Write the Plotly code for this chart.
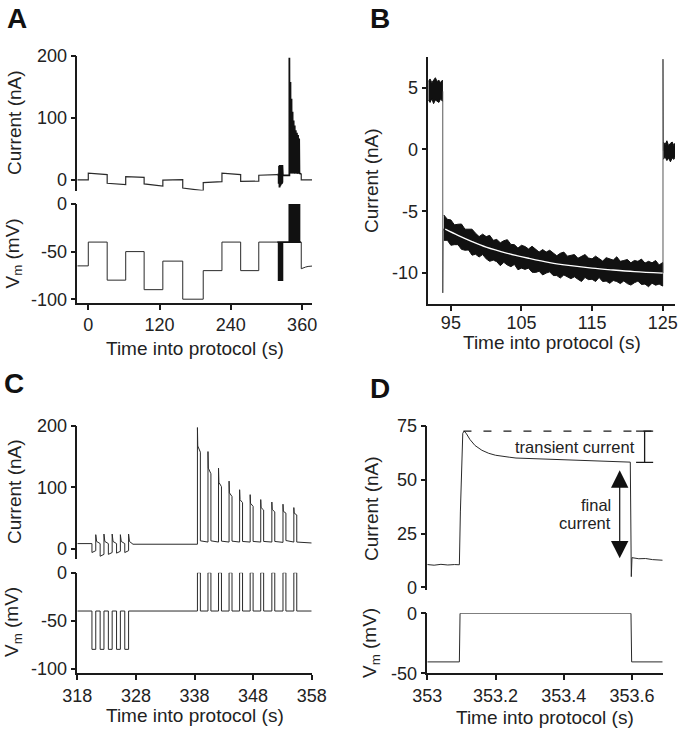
import plotly.graph_objects as go

W, H = 679, 730
FONT = "Liberation Sans, Arial, Helvetica, sans-serif"
INK = "#1a1a1a"
TRACE = "#2a2a2a"

# ---------------- Panel A : whole protocol ----------------
A_step_t = [-18.5, 0, 31.8, 63, 94, 125.5, 159, 193.5, 225, 256.5, 287]
A_step_vm = [-65, -40, -80, -50, -90, -60, -100, -70, -40, -70, -40]
A_cur_start = [0, 11, -5.4, 5.4, -6.3, -0.1, -13, -4.3, 11, -2.2, 7.6]
A_cur_end = [0, 8.6, -7.6, 4.3, -10, 0.5, -17.3, -2.7, 8.6, -2.0, 8.5]
A_tail_t = [358.5, 362, 366, 370, 376.6]
A_tail_vm = [-68, -67, -66.2, -65.6, -65.2]
A_tail_cur = [0, 0.2, 0, -0.1, 0]
A_xticks = [0, 120, 240, 360]
A_cur_ticks = [0, 100, 200]
A_vm_ticks = [0, -50, -100]

# ---------------- Panel B : -90 mV step ----------------
B_pre_t = [91.8, 92.05, 92.3, 92.55, 92.8, 93.05, 93.3, 93.55, 93.8]
B_pre_hi = [5.5, 5.7, 5.4, 5.6, 5.8, 5.5, 5.6, 5.4, 5.6]
B_pre_lo = [4.0, 3.8, 4.1, 3.7, 4.0, 3.9, 3.8, 4.1, 3.9]
B_t = [94.0, 94.5, 95.0, 95.5, 96.0, 96.5, 97.0, 97.5, 98.0, 98.5, 99.0, 99.5,
       100.0, 100.5, 101.0, 101.5, 102.0, 102.5, 103.0, 103.5, 104.0, 104.5,
       105.0, 105.5, 106.0, 106.5, 107.0, 107.5, 108.0, 108.5, 109.0, 109.5,
       110.0, 110.5, 111.0, 111.5, 112.0, 112.5, 113.0, 113.5, 114.0, 114.5,
       115.0, 115.5, 116.0, 116.5, 117.0, 117.5, 118.0, 118.5, 119.0, 119.5,
       120.0, 120.5, 121.0, 121.5, 122.0, 122.5, 123.0, 123.5, 124.0, 124.5, 125.0]
B_hi = [-5.3, -5.65, -5.7, -6.1, -6.05, -6.03, -6.45, -6.48, -6.45, -6.78, -7.05, -6.85,
        -7.05, -6.95, -7.35, -7.28, -7.55, -7.38, -7.3, -7.68, -7.7, -7.98,
        -7.75, -7.85, -8.05, -7.83, -8.1, -8.3, -8.1, -8.3, -8.15, -8.35,
        -8.6, -8.4, -8.3, -8.63, -8.55, -8.5, -8.8, -8.63, -8.5, -8.78,
        -8.85, -8.63, -8.8, -9.03, -8.75, -8.83, -8.95, -8.68, -9.05, -8.98,
        -8.9, -9.17, -8.98, -9.05, -8.87, -9.19, -9.05, -9.17, -8.98, -9.34, -9.15]
B_lo = [-7.35, -7.35, -7.75, -7.7, -7.7, -8.08, -8.15, -8.13, -8.55, -8.48, -8.7, -8.5,
        -8.85, -9.05, -8.95, -9.08, -9.4, -9.13, -9.35, -9.48, -9.3, -9.73,
        -9.6, -9.7, -9.6, -9.93, -9.95, -9.85, -10.15, -10.0, -9.9, -10.2,
        -10.2, -10.4, -10.15, -10.28, -10.45, -10.3, -10.5, -10.68, -10.35, -10.53,
        -10.5, -10.68, -10.35, -10.68, -10.65, -10.83, -10.6, -10.68, -10.85, -10.63,
        -10.85, -10.97, -10.78, -10.65, -10.92, -10.89, -11.1, -10.82, -10.98, -10.89, -11.05]
B_post_t = [125.1, 125.35, 125.6, 125.85, 126.1, 126.35, 126.6, 126.75]
B_post_hi = [0.6, 0.4, 0.7, 0.3, 0.5, 0.6, 0.3, 0.5]
B_post_lo = [-0.8, -0.6, -0.9, -0.7, -1.0, -0.7, -0.8, -0.6]
B_on_t = [93.85, 93.85, 93.9, 94.0]
B_on_y = [4.7, -11.6, -6.6, -6.4]
B_off_t = [125.0, 125.05, 125.05, 125.1]
B_off_y = [-10.0, -10.0, 7.3, -0.1]
B_fit_t = [94.2, 96, 98, 100, 103, 106, 109, 112, 115, 118, 121, 125]
B_fit = [-6.45, -6.95, -7.45, -7.9, -8.4, -8.8, -9.15, -9.4, -9.6, -9.75, -9.88, -10.0]
B_xticks = [95, 105, 115, 125]
B_yticks = [5, 0, -5, -10]

# ---------------- Panel C : pulse trains ----------------
C_hold_vm = -40
C_hyp_vm = -80
C_dep_vm = 0
C_hyp_on = [320.5, 321.9, 323.3, 324.7, 326.1]
C_hyp_dur = 0.65
C_hyp_dip = [-6, -12, -9, -7, -6]
C_hyp_rebound = [23, 24, 24, 23, 24]
C_hyp_settle = 12
C_base_pre = 8.5
C_base_mid = 7.5
C_dep_on = [338.5, 340.3, 342.1, 343.9, 345.7, 347.5, 349.3, 351.2, 353.1, 354.95]
C_dep_dur = 0.5
C_dep_peak = [197, 158, 131, 110, 96, 88, 80, 76, 72.5, 67]
C_dep_knee = [167, 131, 108, 91, 80, 74, 67, 64, 61, 58]
C_dep_end = [157, 122, 101, 85, 75, 69, 63, 60, 58, 55]
C_dep_after = [13, 13, 12.5, 12.5, 12, 12, 12, 12, 13.5, 11]
C_dep_before = [7.5, 11, 11, 11, 11, 11, 11, 11, 10.5, 11]
C_base_end = 9.5
C_xticks = [318, 328, 338, 348, 358]
C_cur_ticks = [0, 100, 200]
C_vm_ticks = [0, -50, -100]

# ---------------- Panel D : single pulse ----------------
D_t = [353.0, 353.02, 353.04, 353.06, 353.08, 353.094, 353.097, 353.104, 353.108,
       353.115, 353.125, 353.14, 353.16, 353.18, 353.20, 353.22, 353.24, 353.26,
       353.28, 353.30, 353.32, 353.34, 353.36, 353.38, 353.40, 353.42, 353.44,
       353.46, 353.48, 353.50, 353.52, 353.54, 353.56, 353.58, 353.595, 353.598,
       353.600, 353.62, 353.64, 353.66, 353.68, 353.69]
D_cur = [10.6, 10.3, 10.7, 10.4, 10.6, 10.5, 35.0, 71.5, 72.5,
         71.2, 68.6, 65.8, 63.6, 62.2, 61.3, 60.7, 60.4, 60.0,
         59.9, 59.6, 59.6, 59.3, 59.4, 59.1, 59.1, 58.9, 59.0,
         58.7, 58.7, 58.6, 58.4, 58.5, 58.3, 58.3, 58.1, 5.0,
         13.8, 13.3, 13.4, 12.9, 12.8, 12.6]
D_vm_t = [353.0, 353.094, 353.096, 353.597, 353.599, 353.69]
D_vm = [-40.5, -40.5, 0, 0, -40.5, -40.5]
D_peak_t = 353.106
D_peak = 72.5
D_final = 58.0
D_bracket_t = 353.637
D_cap_half = 0.025
D_dash_end_t = 353.662
D_arrow_t = 353.564
D_arrow_top = 55.0
D_arrow_bottom = 13.5
D_xticks = [353, 353.2, 353.4, 353.6]
D_xlabels = ["353", "353.2", "353.4", "353.6"]
D_cur_ticks = [0, 25, 50, 75]
D_vm_ticks = [0, -50]


# ---------------- build traces ----------------
def c_vm():
    t, y = [318.0], [C_hold_vm]
    for on in C_hyp_on:
        off = on + C_hyp_dur
        t += [on, on, off, off]
        y += [C_hold_vm, C_hyp_vm, C_hyp_vm, C_hold_vm]
    for on in C_dep_on:
        off = on + C_dep_dur
        t += [on, on, off, off]
        y += [C_hold_vm, C_dep_vm, C_dep_vm, C_hold_vm]
    t.append(358.0)
    y.append(C_hold_vm)
    return t, y


def c_cur():
    t, y = [318.0], [C_base_pre]
    for on, dip, reb in zip(C_hyp_on, C_hyp_dip, C_hyp_rebound):
        off = on + C_hyp_dur
        t += [on, on, off, off, off + 0.15]
        y += [C_base_pre, dip, dip + 3, reb, C_hyp_settle]
    t.append(C_hyp_on[-1] + 1.4)
    y.append(C_base_mid)
    for on, pk, kn, en, af, bf in zip(C_dep_on, C_dep_peak, C_dep_knee, C_dep_end,
                                      C_dep_after, C_dep_before):
        off = on + C_dep_dur
        t += [on, on, on + 0.06, off, off]
        y += [bf, pk, kn, en, af]
    t.append(358.0)
    y.append(C_base_end)
    return t, y


def a_pre():
    t, cur, vm = [], [], []
    for i in range(len(A_step_t)):
        t0 = A_step_t[i]
        t1 = A_step_t[i + 1] if i + 1 < len(A_step_t) else 318.0
        t += [t0, t1]
        cur += [A_cur_start[i], A_cur_end[i]]
        vm += [A_step_vm[i], A_step_vm[i]]
    return t, cur, vm


Cv_t, Cv = c_vm()
Cc_t, Cc = c_cur()
Ap_t, Ap_cur, Ap_vm = a_pre()
At_t = [358.0, A_tail_t[0]] + A_tail_t
At_cur = [C_base_end, C_base_end] + A_tail_cur
At_vm = [C_hold_vm, C_hold_vm] + A_tail_vm

fig = go.Figure()


def line(x, y, xa, ya, width=1.0, color=TRACE, shape="linear"):
    fig.add_trace(go.Scatter(x=x, y=y, xaxis=xa, yaxis=ya, mode="lines",
                             line=dict(color=color, width=width, shape=shape),
                             hoverinfo="skip", showlegend=False))


# Panel A
line(Ap_t, Ap_cur, "x", "y", width=1.2)
line(Cc_t, Cc, "x", "y", width=1.8, color="#111")
line(At_t, At_cur, "x", "y", width=1.2)
line(Ap_t, Ap_vm, "x2", "y2")
line(Cv_t, Cv, "x2", "y2", width=1.8, color="#111")
line(At_t, At_vm, "x2", "y2")

# Panel B
for tt, hi, lo in [(B_pre_t, B_pre_hi, B_pre_lo), (B_t, B_hi, B_lo), (B_post_t, B_post_hi, B_post_lo)]:
    fig.add_trace(go.Scatter(x=tt + tt[::-1], y=hi + lo[::-1], xaxis="x3", yaxis="y3",
                             mode="lines", fill="toself", fillcolor="#111",
                             line=dict(color="#111", width=1.0),
                             hoverinfo="skip", showlegend=False))
line(B_on_t, B_on_y, "x3", "y3", width=0.9, color="#444")
line(B_off_t, B_off_y, "x3", "y3", width=0.9, color="#444")
line(B_fit_t, B_fit, "x3", "y3", width=1.3, color="white", shape="spline")

# Panel C
line(Cc_t, Cc, "x4", "y4")
line(Cv_t, Cv, "x5", "y5")

# Panel D
line(D_t, D_cur, "x6", "y6")
line(D_vm_t, D_vm, "x7", "y7")


def px2x(p):
    return p / W


def px2y(p):
    return 1 - p / H


def xaxis(dom, rng, ticks=None, labels=None, anchor="y", visible=True, standoff=0):
    d = dict(domain=[px2x(dom[0]), px2x(dom[1])], range=rng, anchor=anchor,
             showline=True, linecolor=INK, linewidth=1.5, ticks="outside",
             ticklen=5, tickwidth=1.5, tickcolor=INK, showgrid=False, zeroline=False,
             automargin=False, ticklabelstandoff=standoff,
             tickfont=dict(family=FONT, size=18, color="#222"), visible=visible)
    if ticks is not None:
        d.update(tickmode="array", tickvals=ticks,
                 ticktext=labels if labels else [str(v) for v in ticks])
    return d


def yaxis(dom, rng, ticks, anchor):
    return dict(domain=[px2y(dom[1]), px2y(dom[0])], range=rng, anchor=anchor,
                showline=True, linecolor=INK, linewidth=1.5, ticks="outside",
                ticklen=5, tickwidth=1.5, tickcolor=INK, showgrid=False, zeroline=False,
                automargin=False,
                tickfont=dict(family=FONT, size=18, color="#222"),
                tickmode="array", tickvals=ticks, ticktext=[str(v) for v in ticks])


A_x = [77.3, 312]
B_x = [428.3, 675]
C_x = [77.3, 311.7]
D_x = [427.3, 662.7]

fig.update_layout(
    width=W, height=H, autosize=False,
    margin=dict(l=0, r=0, t=0, b=0, pad=0, autoexpand=False),
    paper_bgcolor="white", plot_bgcolor="white",
    font=dict(family=FONT, color="#222"),
    showlegend=False,
    xaxis=xaxis(A_x, [-18.5, 376.6], anchor="y", visible=False),
    yaxis=yaxis([56, 190.5], [-17, 200], A_cur_ticks, "x"),
    xaxis2=xaxis(A_x, [-18.5, 376.6], A_xticks, anchor="y2"),
    yaxis2=yaxis([204, 303], [-104, 0], A_vm_ticks, "x2"),
    xaxis3=xaxis(B_x, [91.8, 126.75], B_xticks, anchor="y3", standoff=-3),
    yaxis3=yaxis([56.7, 304], [-12.5, 7.5], B_yticks, "x3"),
    xaxis4=xaxis(C_x, [318, 358], anchor="y4", visible=False),
    yaxis4=yaxis([425.7, 559.3], [-17, 200], C_cur_ticks, "x4"),
    xaxis5=xaxis(C_x, [318, 358], C_xticks, anchor="y5"),
    yaxis5=yaxis([572.7, 673.3], [-105, 0], C_vm_ticks, "x5"),
    xaxis6=xaxis(D_x, [353, 353.69], anchor="y6", visible=False),
    yaxis6=yaxis([425.7, 590], [-1.2, 75], D_cur_ticks, "x6"),
    xaxis7=xaxis(D_x, [353, 353.69], D_xticks, D_xlabels, anchor="y7"),
    yaxis7=yaxis([613.3, 673.3], [-50, 0], D_vm_ticks, "x7"),
)

# D markup: dashed peak line, bracket, double arrow
shapes = [
    dict(type="line", xref="x6", yref="y6", x0=D_peak_t, x1=D_dash_end_t, y0=D_peak, y1=D_peak,
         line=dict(color=INK, width=1.2, dash="8px,12px")),
    dict(type="line", xref="x6", yref="y6", x0=D_bracket_t, x1=D_bracket_t, y0=D_peak, y1=D_final,
         line=dict(color=INK, width=1.3)),
    dict(type="line", xref="x6", yref="y6", x0=D_bracket_t - D_cap_half, x1=D_bracket_t + D_cap_half,
         y0=D_peak, y1=D_peak, line=dict(color=INK, width=1.3)),
    dict(type="line", xref="x6", yref="y6", x0=D_bracket_t - D_cap_half, x1=D_bracket_t + D_cap_half,
         y0=D_final, y1=D_final, line=dict(color=INK, width=1.3)),
]
fig.update_layout(shapes=shapes)

ann = []
ann.append(dict(xref="x6", yref="y6", axref="x6", ayref="y6",
                x=D_arrow_t, y=D_arrow_bottom, ax=D_arrow_t, ay=D_arrow_top,
                text="", showarrow=True, arrowside="end+start",
                arrowhead=2, startarrowhead=2, arrowsize=2.9, startarrowsize=2.9,
                arrowwidth=1.2, arrowcolor="#111", standoff=0, startstandoff=0))


def text(x, y, s, size=19, angle=0, anchor="center", bold=False):
    ann.append(dict(xref="paper", yref="paper", x=px2x(x), y=px2y(y), text=s,
                    showarrow=False, textangle=angle, xanchor=anchor, yanchor="middle",
                    font=dict(family=FONT, size=size, color="#111" if bold else "#222")))


# panel letters
for lx, ly, s in [(16.5, 18.5, "A"), (380, 18, "B"), (13.5, 383, "C"), (380, 388, "D")]:
    text(lx, ly, "<b>%s</b>" % s, size=28, bold=True)

# axis titles
text(14, 123, "Current (nA)", angle=-90)
text(13, 253.5, "V<sub>m</sub> (mV)", angle=-90)
text(194.6, 348, "Time into protocol (s)")
text(371, 180, "Current (nA)", angle=-90)
text(552, 342, "Time into protocol (s)")
text(14, 492, "Current (nA)", angle=-90)
text(13, 622, "V<sub>m</sub> (mV)", angle=-90)
text(194.5, 715, "Time into protocol (s)")
text(371, 508, "Current (nA)", angle=-90)
text(371, 643, "V<sub>m</sub> (mV)", angle=-90)
text(545, 717, "Time into protocol (s)")

# D labels
text(636.7, 446.7, "transient current", size=16.5, anchor="right")
text(613.3, 505, "final", size=16.5, anchor="right")
text(613.3, 523.3, "current", size=16.5, anchor="right")

fig.update_layout(annotations=ann)

fig.write_html("out.html", config={"displayModeBar": False},
               post_script="document.body.style.margin='0px';")
